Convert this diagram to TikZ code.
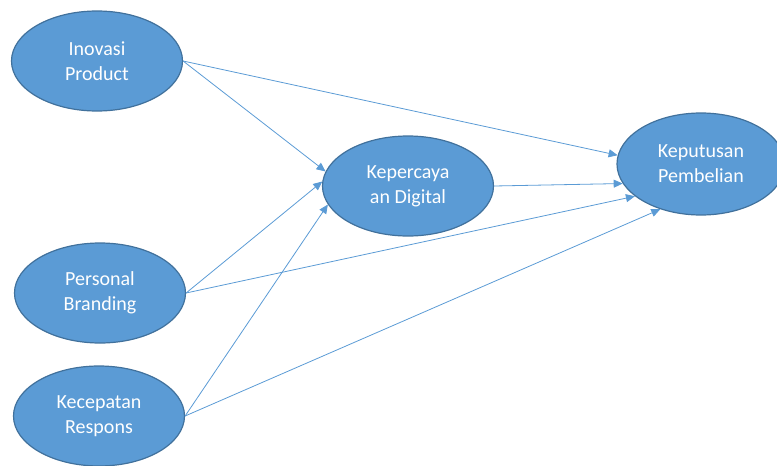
\documentclass[tikz,border=0pt]{standalone}
\usepackage{fontspec}
\setmainfont{Carlito}
\usetikzlibrary{arrows.meta,shapes.geometric}
\definecolor{varfill}{HTML}{5B9BD5}
\definecolor{varline}{HTML}{41719C}
\definecolor{arrline}{HTML}{5B9BD5}
\begin{document}
\begin{tikzpicture}[x=1pt,y=-1pt,
  var/.style={draw=varline, line width=1.2pt, fill=varfill, ellipse, minimum width=171pt, minimum height=100pt, inner sep=0pt, text=white, align=center, font=\fontsize{20}{25}\selectfont},
  arr/.style={draw=arrline, line width=0.8pt, -{Triangle[length=9pt,width=8pt]}}]
\useasboundingbox (0,0) rectangle (777,466);
\node[var] (inov) at (97,61) {Inovasi\\Product};
\node[var] (pers) at (100,293) {Personal\\Branding};
\node[var] (kec) at (99,416) {Kecepatan\\Respons};

\node[var] (trust) at (408,186) {Kepercaya\\an Digital};
\node[var, minimum width=168pt, minimum height=102pt] (keput) at (701,164) {Keputusan\\Pembelian};

\path[arr] (inov.east) -- (trust.170);
\path[arr] (inov.east) -- (keput.174);
\path[arr] (pers.east) -- (trust.177);
\path[arr] (pers.east) -- (keput.206);
\path[arr] (kec.east) -- (trust.193);
\path[arr] (kec.east) -- (keput.228);
\path[arr] (trust.east) -- (keput.194);
\end{tikzpicture}
\end{document}
